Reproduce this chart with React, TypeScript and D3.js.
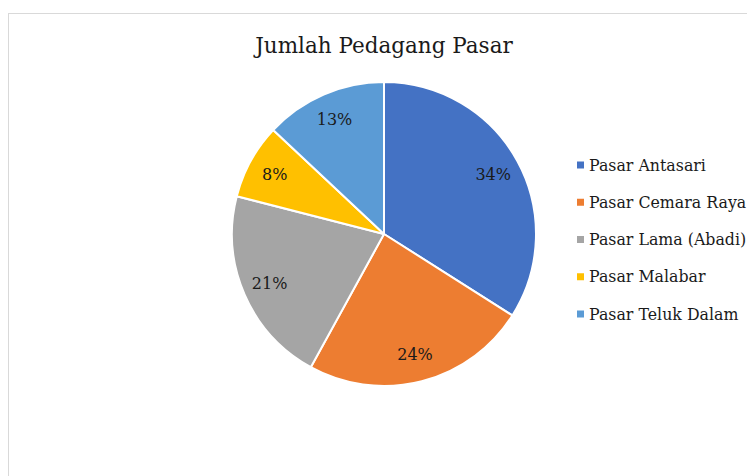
import React from "react";
import * as d3 from "d3";

const categories = ["Pasar Antasari", "Pasar Cemara Raya", "Pasar Lama (Abadi)", "Pasar Malabar", "Pasar Teluk Dalam"];
const values = [34, 24, 21, 8, 13];
const colors = ["#4472C4", "#ED7D31", "#A5A5A5", "#FFC000", "#5B9BD5"];
const title = "Jumlah Pedagang Pasar";

const W = 747, H = 476;
const cx = 384, cy = 234, R = 152;

export default function App() {
  const data = categories.map((c, i) => ({ c, v: values[i], color: colors[i] }));
  const pie = d3.pie<any>().sort(null).value((d: any) => d.v).startAngle(0);
  const arcs = pie(data);
  const arc = d3.arc<any>().innerRadius(0).outerRadius(R);
  const labelArc = d3.arc<any>().innerRadius(R * 0.82).outerRadius(R * 0.82);
  const total = d3.sum(values);
  const fmt = d3.format(".0%");
  const legendY = d3.scalePoint<string>().domain(categories).range([165, 314]);
  const font = "'DejaVu Serif', serif";
  return (
    <svg width={W} height={H} style={{ position: "absolute", left: 0, top: 0, background: "#fff" }}>
      <rect x={8.5} y={13.5} width={W + 10} height={H} fill="#fff" stroke="#d9d9d9" strokeWidth={1} />
      <text x={cx} y={53} textAnchor="middle" fontFamily={font} fontSize={21.5} fill="#1a1a1a">{title}</text>
      <g transform={`translate(${cx},${cy})`}>
        {arcs.map((a, i) => (
          <path key={i} d={arc(a) as string} fill={a.data.color} stroke="#fff" strokeWidth={2} strokeLinejoin="round" />
        ))}
        {arcs.map((a, i) => {
          const [x, y] = labelArc.centroid(a);
          return (
            <text key={i} x={x} y={y} dy="0.35em" textAnchor="middle" fontFamily={font} fontSize={16} fill="#1a1a1a">
              {fmt(a.data.v / total)}
            </text>
          );
        })}
      </g>
      {categories.map((c, i) => (
        <g key={c} transform={`translate(577,${legendY(c)})`}>
          <rect x={0} y={-3.5} width={7} height={7} fill={colors[i]} />
          <text x={12} y={0} dy="0.35em" fontFamily={font} fontSize={15.8} fill="#1a1a1a">{c}</text>
        </g>
      ))}
    </svg>
  );
}
